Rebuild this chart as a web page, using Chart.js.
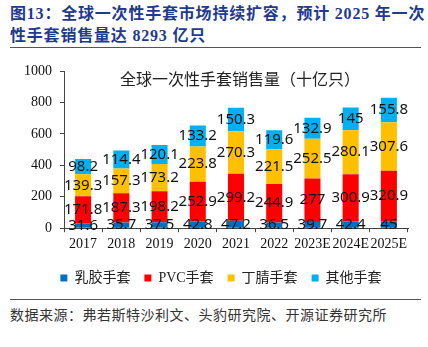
<!DOCTYPE html>
<html>
<head>
<meta charset="utf-8">
<script src="https://cdn.jsdelivr.net/npm/chart.js@4"></script>
<style>
  html, body { margin:0; padding:0; background:#fff; }
  body { width:428px; height:347px; position:relative; overflow:hidden; }
  .head { position:absolute; left:10px; top:3px; width:418px; color:#1F3A8F; font-family:"Liberation Serif","Noto Sans CJK SC"; font-weight:700; font-size:16px; line-height:22px; letter-spacing:0.8px; white-space:nowrap; }
  .rule { position:absolute; left:10px; width:411px; height:0; border-top:1.5px solid #555; }
  .ctitle { position:absolute; left:0; width:480px; text-align:center; top:66px; font-family:"Noto Sans CJK SC"; font-size:16px; color:#222; }
  .src { position:absolute; left:10px; top:304px; font-family:"Liberation Serif","Noto Sans CJK SC"; font-size:14px; letter-spacing:0.5px; color:#333; white-space:nowrap; }
  canvas { position:absolute; left:0; top:50px; }
</style>
</head>
<body>
<div class="head">图13：全球一次性手套市场持续扩容，预计 2025 年一次<br>性手套销售量达 8293 亿只</div>
<div class="rule" style="top:47px"></div>
<canvas id="gloveChart" width="428" height="245"></canvas>
<div class="ctitle">全球一次性手套销售量（十亿只）</div>
<div class="rule" style="top:299px"></div>
<div class="src">数据来源：弗若斯特沙利文、头豹研究院、开源证券研究所</div>
<script>
// ─── data ───────────────────────────────────────────
const years   = ["2017","2018","2019","2020","2021","2022","2023E","2024E","2025E"];
const latex   = [31.6, 35.7, 37.5, 42.8, 47.2, 36.5, 39.7, 42.4, 45];
const pvc     = [171.8, 187.3, 198.2, 252.9, 299.2, 244.9, 277, 300.9, 320.9];
const nitrile = [139.3, 157.3, 173.2, 223.8, 270.3, 221.5, 252.5, 280.1, 307.6];
const other   = [98.2, 114.4, 120.1, 133.2, 150.3, 119.6, 132.9, 145, 155.8];
const yTicks  = [0, 200, 400, 600, 800, 1000];

const serif = "'Liberation Serif', 'Noto Sans CJK SC'";

// value labels in the middle of each segment
const segLabels = {
  id: "segLabels",
  afterDatasetsDraw(chart) {
    const ctx = chart.ctx;
    ctx.save();
    ctx.font = "15px 'Noto Sans'";
    ctx.fillStyle = "#111";
    ctx.textAlign = "center";
    ctx.textBaseline = "middle";
    chart.data.datasets.forEach((ds, i) => {
      chart.getDatasetMeta(i).data.forEach((bar, j) => {
        ctx.fillText(String(ds.data[j]), bar.x, (bar.y + bar.base) / 2);
      });
    });
    ctx.restore();
  }
};

// nudge the legend a little right, as in the original
const legendShift = {
  id: "legendShift",
  afterLayout(chart) {
    const lg = chart.legend;
    if (!lg) return;
    lg.left += 12; lg.right += 12;
    (lg.legendHitBoxes || []).forEach(b => { b.left += 12; });
  }
};

const mk = (label, data, color) => ({
  label, data, backgroundColor: color, borderWidth: 0,
  barPercentage: 0.42, categoryPercentage: 1.0
});

new Chart(document.getElementById("gloveChart"), {
  type: "bar",
  data: {
    labels: years,
    datasets: [
      mk("乳胶手套", latex, "#0070C0"),
      mk("PVC手套", pvc, "#FF0000"),
      mk("丁腈手套", nitrile, "#FFC000"),
      mk("其他手套", other, "#00B0F0")
    ]
  },
  options: {
    responsive: false,
    animation: false,
    layout: { padding: { left: 10, right: 20, top: 21, bottom: 0 } },
    plugins: {
      tooltip: { enabled: false },
      title: { display: false },
      legend: {
        position: "bottom",
        labels: { boxWidth: 7, boxHeight: 7, padding: 14, color: "#222", font: { family: serif, size: 14 } }
      }
    },
    scales: {
      x: {
        stacked: true,
        border: { color: "#444", width: 1 },
        grid: { drawOnChartArea: false, drawTicks: true, tickLength: 4, color: "#444", offset: true },
        ticks: { color: "#111", padding: 4, maxRotation: 0, autoSkip: false, font: { family: serif, size: 14 } }
      },
      y: {
        stacked: true,
        min: 0, max: 1000,
        afterBuildTicks: s => { s.ticks = yTicks.map(v => ({ value: v })); },
        afterFit: s => { s.width = 54; },
        border: { color: "#444", width: 1 },
        grid: { drawOnChartArea: false, drawTicks: true, tickLength: 4, color: "#444" },
        ticks: { color: "#111", padding: 8, font: { family: serif, size: 14 }, callback: v => String(v) }
      }
    }
  },
  plugins: [segLabels, legendShift]
});
</script>
</body>
</html>
